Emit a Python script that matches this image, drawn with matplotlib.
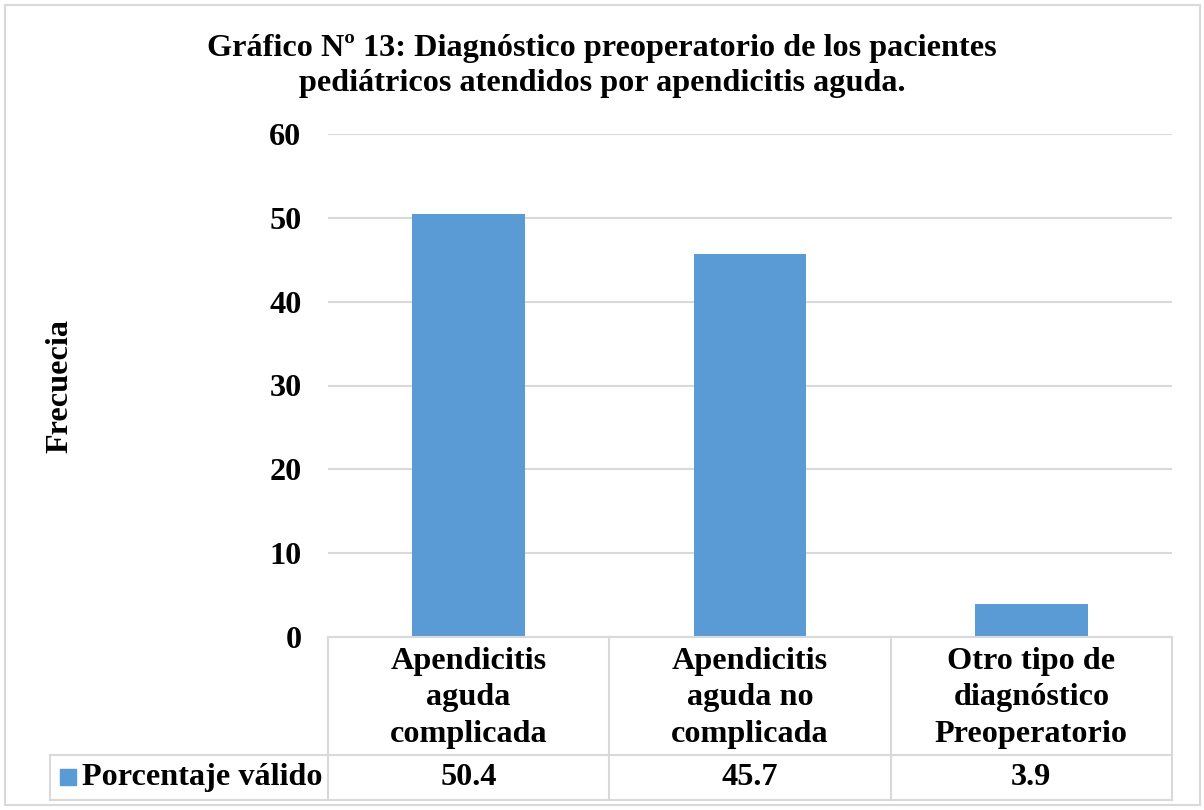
import matplotlib
matplotlib.use("Agg")
import matplotlib.pyplot as plt
from matplotlib.patches import Rectangle
from matplotlib.transforms import blended_transform_factory

# datos del gráfico
categorias = ["Apendicitis\naguda\ncomplicada",
              "Apendicitis\naguda no\ncomplicada",
              "Otro tipo de\ndiagnóstico\nPreoperatorio"]
valores = [50.4, 45.7, 3.9]
serie = "Porcentaje válido"
titulo = ("Gráfico Nº 13: Diagnóstico preoperatorio de los pacientes\n"
          "pediátricos atendidos por apendicitis aguda.")
eje_y = "Frecuecia"
y_ticks = [0, 10, 20, 30, 40, 50, 60]

azul = "#5B9BD5"
gris = "#D9D9D9"
fs = 23.2

plt.rcParams["font.family"] = ["Liberation Serif", "DejaVu Serif"]
plt.rcParams["font.weight"] = "bold"

W, H = 1204, 810
fig = plt.figure(figsize=(W / 100, H / 100), dpi=100)

# area del grafico en pixeles
left, right, top, bottom = 328, 1172, 134, 637
ax = fig.add_axes([left / W, 1 - bottom / H, (right - left) / W, (bottom - top) / H])

x = list(range(len(valores)))
ax.bar(x, valores, width=0.40, color=azul, zorder=2)
ax.set_xlim(-0.5, len(valores) - 0.5)
ax.set_ylim(0, 60)
ax.set_yticks(y_ticks)
ax.tick_params(axis="y", length=0, pad=19, labelsize=fs)
ax.set_xticks([])
ax.grid(axis="y", color=gris, lw=1.5, zorder=0)
for s in ax.spines.values():
    s.set_visible(False)

# tabla de datos debajo del eje
alto_ax = bottom - top
ancho_cat = (right - left) / len(valores)
h1 = 118 / alto_ax
h2 = 163 / alto_ax
x_izq = -0.5 - (left - 50) / ancho_cat
trans = blended_transform_factory(ax.transData, ax.transAxes)
kw = dict(color=gris, lw=1.5, transform=trans, clip_on=False)

ax.plot([-0.5, len(valores) - 0.5], [0, 0], **kw)
ax.plot([x_izq, len(valores) - 0.5], [-h1, -h1], **kw)
ax.plot([x_izq, len(valores) - 0.5], [-h2, -h2], **kw)
ax.plot([x_izq, x_izq], [-h1, -h2], **kw)
for i in range(len(valores) + 1):
    ax.plot([i - 0.5, i - 0.5], [0, -h2], **kw)

for i, (cat, val) in enumerate(zip(categorias, valores)):
    ax.text(i, -(h1 / 2 + 2 / alto_ax), cat, transform=trans, ha="center",
            va="center", fontsize=fs, linespacing=1.32)
    ax.text(i, -(h1 + h2) / 2, f"{val:.1f}", transform=trans, ha="center",
            va="center", fontsize=fs)

# clave de leyenda
ax.add_patch(Rectangle((-0.5 - (left - 60) / ancho_cat, -(785 - bottom) / alto_ax),
                       16 / ancho_cat, 16 / alto_ax, color=azul,
                       transform=trans, clip_on=False))
ax.text(-0.5 - (left - 82) / ancho_cat, -(h1 + h2) / 2, serie, transform=trans,
        ha="left", va="center", fontsize=fs)

fig.text(0.5, 1 - 66 / H, titulo, ha="center", va="center", fontsize=fs,
         multialignment="center", linespacing=1.28)
fig.text(60 / W, 1 - 386 / H, eje_y, rotation=90, ha="center", va="center",
         fontsize=fs)

fig.patches.append(Rectangle((5 / W, 5 / H), 1195 / W, 800 / H, fill=False,
                             edgecolor=gris, lw=1.5, transform=fig.transFigure))

fig.savefig("out.png", dpi=100)
